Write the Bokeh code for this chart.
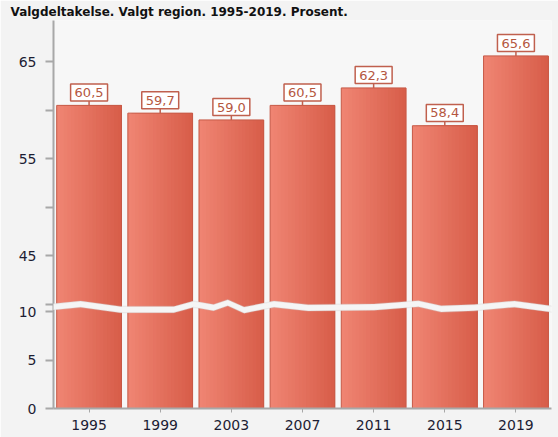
from bokeh.plotting import figure
from bokeh.models import ColumnDataSource, FixedTicker, PolyAnnotation, Range1d, BoxAnnotation
from bokeh.transform import dodge
from bokeh.core.properties import value
from bokeh.embed import file_html
from bokeh.resources import INLINE

# ---------------- data ----------------
years = ["1995", "1999", "2003", "2007", "2011", "2015", "2019"]
turnout = [60.5, 59.7, 59.0, 60.5, 62.3, 58.4, 65.6]
title_text = "Valgdeltakelse. Valgt region. 1995-2019. Prosent."
lower_ticks = [0, 5, 10]
upper_ticks = [40, 45, 50, 55, 60, 65]
upper_labelled = [45, 55, 65]

# ---------------- broken axis mapping ----------------
BREAK_LOW = 10
SHIFT = 29.25  # values above the break are drawn shifted down by this amount


def disp(v):
    return v if v <= BREAK_LOW else v - SHIFT


tops = [disp(v) for v in turnout]
stems = [t + 0.45 for t in tops]
labels = [f"{v:.1f}".replace(".", ",") for v in turnout]
src = ColumnDataSource(dict(year=years, top=tops, stem=stems, label=labels))

tick_pos = [disp(t) for t in lower_ticks] + [disp(t) for t in upper_ticks]
overrides = {disp(t): str(t) for t in lower_ticks}
for t in upper_ticks:
    overrides[disp(t)] = str(t) if t in upper_labelled else ""

# ---------------- figure ----------------
p = figure(
    x_range=years, y_range=Range1d(0, 40),
    width=558, height=437,
    output_backend="svg", toolbar_location=None,
    min_border_left=53, min_border_right=7, min_border_bottom=29, min_border_top=0,
    background_fill_color="#f7f7f7", border_fill_color="#f3f3f3",
    outline_line_color=None,
)

# white strips (top behind the title, and a thin left margin)
p.add_layout(BoxAnnotation(left=0, right=558, top=0, bottom=14,
                           left_units="canvas", right_units="canvas",
                           top_units="canvas", bottom_units="canvas",
                           fill_color="white", fill_alpha=1, line_color=None,
                           level="underlay"))
p.add_layout(BoxAnnotation(left=0, right=8, top=0, bottom=437,
                           left_units="canvas", right_units="canvas",
                           top_units="canvas", bottom_units="canvas",
                           fill_color="white", fill_alpha=1, line_color=None,
                           level="underlay"))

p.title.text = title_text
p.title.align = "left"
p.title.offset = -43
p.title.standoff = 4
p.title.text_font = "DejaVu Sans"
p.title.text_font_size = "12px"
p.title.text_font_style = "bold"
p.title.text_color = "#111111"

p.xgrid.grid_line_color = None
p.ygrid.grid_line_color = None

# bars with a left-to-right gradient, drawn as nested strips (no seams)
W = 0.91
N = 18
c0 = (239, 132, 114)
c1 = (216, 94, 74)
step = W / N
for k in range(N):
    f = k / (N - 1)
    col = "#%02x%02x%02x" % tuple(int(round(a + (b - a) * f)) for a, b in zip(c0, c1))
    p.vbar(x=dodge("year", k * step / 2, range=p.x_range), top="top", bottom=0,
           width=W - k * step, fill_color=col, line_color=None, source=src)
p.vbar(x="year", top="top", bottom=0, width=W, fill_color=None,
       line_color="#c65a47", line_width=1, source=src)

# value labels with a stem
p.segment(x0="year", y0="top", x1="year", y1="stem", line_color="#c0604e",
          line_width=1.5, source=src)
p.text(x="year", y="stem", text="label", source=src,
       text_align="center", text_baseline="bottom",
       text_font=value("DejaVu Sans"), text_font_size=value("13px"),
       text_color="#b5573f",
       background_fill_color="white", border_line_color="#c0604e",
       border_line_width=1.5, padding=dict(left=4, right=4, top=4, bottom=4))

# axis break band
wave_x = [-0.14, 0.38, 0.94, 1.69, 1.97, 2.25, 2.45, 2.68, 3.1, 3.58, 4.51,
          5.13, 5.45, 5.92, 6.48, 7.05]
wave_c = [10.38, 10.75, 10.2, 10.2, 10.75, 10.4, 10.9, 10.15, 10.75, 10.38,
          10.46, 10.8, 10.26, 10.39, 10.77, 10.2]
HALF = 0.32
xs = wave_x + wave_x[::-1]
ys = [c + HALF for c in wave_c] + [c - HALF for c in wave_c][::-1]
p.add_layout(PolyAnnotation(xs=xs, ys=ys, fill_color="#f5f5f5", fill_alpha=1,
                            line_color="#cccccc", line_width=1.2, level="overlay"))

# axes
ax = p.yaxis[0]
ax.ticker = FixedTicker(ticks=tick_pos)
ax.major_label_overrides = overrides
ax.axis_line_color = "#a8a8a8"
ax.axis_line_width = 2
ax.major_tick_line_color = "#a8a8a8"
ax.major_tick_line_width = 2
ax.major_tick_out = 8
ax.major_tick_in = 0
ax.minor_tick_out = 0
ax.minor_tick_in = 0
ax.major_label_standoff = 9
ax.major_label_text_font = "DejaVu Sans"
ax.major_label_text_font_size = "14px"
ax.major_label_text_color = "#1d1d33"

xa = p.xaxis[0]
xa.axis_line_color = "#a8a8a8"
xa.axis_line_width = 2
xa.major_tick_line_color = "#a8a8a8"
xa.major_tick_out = 4
xa.major_tick_in = 0
xa.major_label_standoff = 7
xa.major_label_text_font = "DejaVu Sans"
xa.major_label_text_font_size = "14px"
xa.major_label_text_color = "#1d1d33"

open("out.html", "w").write(file_html(p, INLINE))
